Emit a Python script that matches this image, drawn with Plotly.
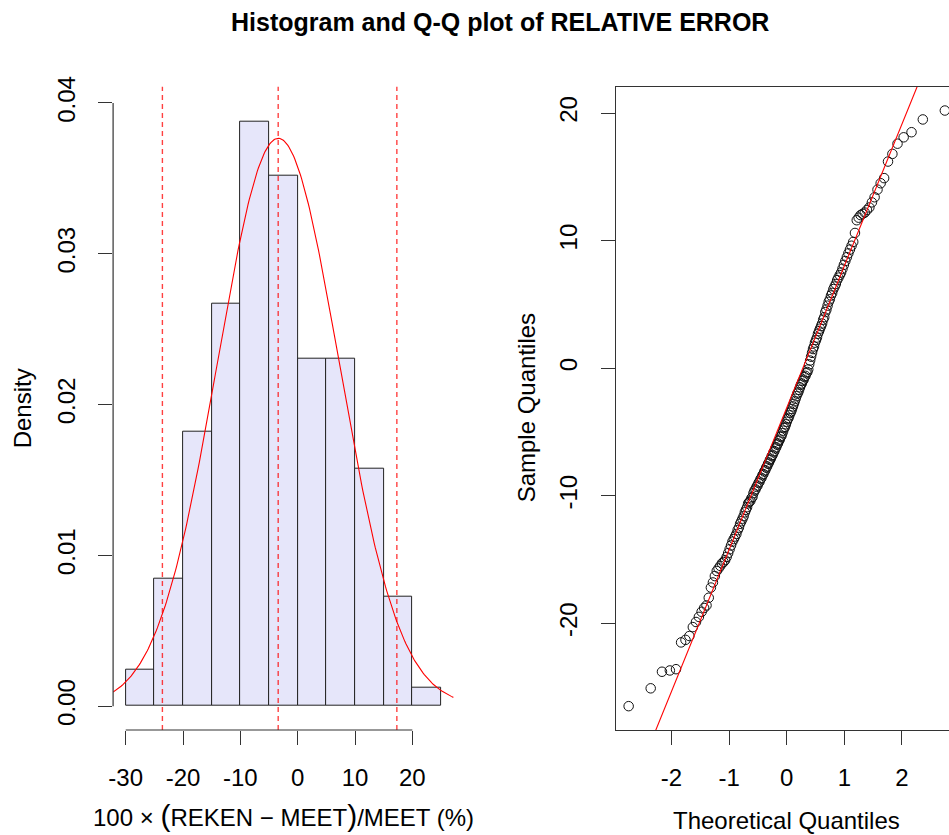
import numpy as np
import plotly.graph_objects as go
from statistics import NormalDist

# ---------------- data ----------------
SAMPLE = [
    -26.5, -25.1, -23.8, -23.7, -23.6, -21.5, -21.3, -21.0, -20.3,
    -19.9, -19.5, -19.1, -18.8, -18.6, -18.0, -17.2, -16.8, -16.3, -15.9,
    -15.7, -15.5, -15.3, -15.2, -15.05,
    -14.8, -14.5, -14.2, -13.9, -13.6, -13.4, -13.2, -13.0, -12.7, -12.5,
    -12.2, -12.0, -11.8, -11.6, -11.3, -11.1, -10.9, -10.6, -10.5, -10.4,
    -10.2, -10.1,
    -9.8, -9.6, -9.5, -9.3, -9.2, -9.0, -8.9, -8.7, -8.6, -8.4, -8.3, -8.1,
    -8.0, -7.8, -7.7, -7.5, -7.4, -7.2, -7.1, -6.9, -6.8, -6.6, -6.5, -6.3,
    -6.2, -6.0, -5.9, -5.7, -5.6, -5.4, -5.3, -5.1,
    -4.9, -4.7, -4.6, -4.4, -4.2, -4.0, -3.9, -3.7, -3.5, -3.4, -3.2, -3.0,
    -2.8, -2.6, -2.4, -2.2, -2.0, -1.9, -1.7, -1.5, -1.3, -1.2, -1.0, -0.9,
    -0.7, -0.6, -0.4, -0.3, -0.1,
    0.3, 0.6, 0.9, 1.2, 1.5, 1.7, 2.0, 2.2, 2.4, 2.7, 2.9, 3.1, 3.3, 3.5,
    3.8, 4.0, 4.4, 4.6, 4.9,
    5.2, 5.4, 5.7, 5.9, 6.2, 6.4, 6.6, 6.9, 7.1, 7.3, 7.5, 7.8, 8.1, 8.4,
    8.7, 9.0, 9.3, 9.6, 9.9,
    10.6, 11.6, 11.8, 12.0, 12.1, 12.2, 12.4, 12.6, 13.0, 13.4, 14.0, 14.5, 14.9,
    16.2, 16.8, 17.6, 18.1, 18.5, 19.5,
    20.2,
]
BIN_EDGES = [-30, -25, -20, -15, -10, -5, 0, 5, 10, 15, 20, 25]
HIST_COUNTS = [2, 7, 15, 22, 32, 29, 19, 19, 13, 6, 1]
REF_LINES = [-23.6, -3.4, 17.3]
HIST_YLIM = [0.0, 0.0395]

HIST_XTICKS = [-30, -20, -10, 0, 10, 20]
HIST_XTICKTEXT = ["-30", "-20", "-10", "0", "10", "20"]
HIST_YTICKS = [0.00, 0.01, 0.02, 0.03, 0.04]
HIST_YTICKTEXT = ["0.00", "0.01", "0.02", "0.03", "0.04"]
QQ_XTICKS = [-2, -1, 0, 1, 2]
QQ_XTICKTEXT = ["-2", "-1", "0", "1", "2"]
QQ_YTICKS = [-20, -10, 0, 10, 20]
QQ_YTICKTEXT = ["-20", "-10", "0", "10", "20"]

TITLE = "Histogram and Q-Q plot of RELATIVE ERROR"
HIST_XLABEL = "100 × <span style='font-size:30px'>(</span>REKEN − MEET<span style='font-size:30px'>)</span>/MEET (%)"
HIST_YLABEL = "Density"
QQ_XLABEL = "Theoretical Quantiles"
QQ_YLABEL = "Sample Quantiles"

# ---------------- derived ----------------
W, H = 949, 835
FONT = "Liberation Sans, Arial, sans-serif"
FS = 24

x = np.array(SAMPLE, dtype=float)
n = len(x)
edges = np.array(BIN_EDGES, dtype=float)
counts = np.array(HIST_COUNTS, dtype=float)
bw = np.diff(edges)
mids = (edges[:-1] + edges[1:]) / 2
density = counts / (counts.sum() * bw)

mu = x.mean()
sd = x.std(ddof=1)
nd = NormalDist(mu, sd)


def rext(lo, hi):
    d = (hi - lo) * 0.04
    return [lo - d, hi + d]


hx = rext(edges[0], edges[-1])
hy = rext(*HIST_YLIM)
curve_x = np.linspace(hx[0], hx[1], 301)
curve_y = np.array([nd.pdf(v) for v in curve_x])

std = NormalDist()
xs = np.sort(x)
theo = np.array([std.inv_cdf((i - 0.5) / n) for i in range(1, n + 1)])
qx = rext(theo.min(), theo.max())
qy = rext(xs.min(), xs.max())
q1, q3 = np.quantile(xs, [0.25, 0.75])
z1, z3 = std.inv_cdf(0.25), std.inv_cdf(0.75)
slope = (q3 - q1) / (z3 - z1)
inter = q1 - slope * z1
line_x = np.array([qx[0] - 1, qx[1] + 1])
line_y = inter + slope * line_x

# pixel layout (plot regions)
P_TOP, P_BOT = 86.7, 730.0
L_LEFT, L_RIGHT = 113.1, 453.6
R_LEFT = 616.0
R_WIDTH = 341.5          # full plot width (partly outside the window)
px_per = R_WIDTH / (qx[1] - qx[0])
qx_vis = [qx[0], qx[0] + (W - R_LEFT) / px_per]

ydom = [1 - P_BOT / H, 1 - P_TOP / H]

fig = go.Figure()
fig.add_trace(go.Bar(
    x=mids, y=density, width=bw,
    marker=dict(color="#E6E6FA", line=dict(color="#222222", width=1)),
    xaxis="x", yaxis="y", showlegend=False, hoverinfo="skip"))
fig.add_trace(go.Scatter(
    x=curve_x, y=curve_y, mode="lines",
    line=dict(color="#FF0000", width=1.1),
    xaxis="x", yaxis="y", showlegend=False, hoverinfo="skip"))
fig.add_trace(go.Scatter(
    x=theo, y=xs, mode="markers",
    marker=dict(symbol="circle-open", size=9.5, color="#111111", line=dict(width=1)),
    xaxis="x2", yaxis="y2", showlegend=False, hoverinfo="skip"))
fig.add_trace(go.Scatter(
    x=line_x, y=line_y, mode="lines",
    line=dict(color="#FF0000", width=1.1),
    xaxis="x2", yaxis="y2", showlegend=False, hoverinfo="skip"))

shapes = []
for v in REF_LINES:
    shapes.append(dict(type="line", xref="x", yref="y domain", x0=v, x1=v, y0=0, y1=1,
                       line=dict(color="rgba(255,0,0,0.75)", width=1.4, dash="5px,4px")))
# R-style axis lines spanning the tick range only (left panel)
shapes.append(dict(type="line", xref="x", yref="y domain",
                   x0=HIST_XTICKS[0], x1=HIST_XTICKS[-1], y0=0, y1=0,
                   line=dict(color="#333333", width=1.2)))
shapes.append(dict(type="line", xref="x domain", yref="y",
                   x0=0, x1=0, y0=HIST_YTICKS[0], y1=HIST_YTICKS[-1],
                   line=dict(color="#333333", width=1.2)))

tickfont = dict(family=FONT, size=FS, color="black")
common = dict(showgrid=False, zeroline=False, ticks="outside", ticklen=14,
              tickwidth=1.2, tickcolor="#333333", tickfont=tickfont,
              fixedrange=True, automargin=False)

fig.update_layout(
    template="none",
    width=W, height=H,
    margin=dict(l=0, r=0, t=0, b=0, pad=0, autoexpand=False),
    paper_bgcolor="white", plot_bgcolor="white",
    showlegend=False, bargap=0,
    shapes=shapes,
    xaxis=dict(domain=[L_LEFT / W, L_RIGHT / W], range=hx, anchor="y",
               tickvals=HIST_XTICKS, ticktext=HIST_XTICKTEXT, showline=False,
               ticklabelstandoff=12, **common),
    yaxis=dict(domain=ydom, range=hy, anchor="x",
               tickvals=HIST_YTICKS, ticktext=HIST_YTICKTEXT, showline=False,
               tickangle=-90, ticklabelstandoff=14, **common),
    xaxis2=dict(domain=[R_LEFT / W, 1.0], range=qx_vis, anchor="y2",
                tickvals=QQ_XTICKS, ticktext=QQ_XTICKTEXT,
                showline=True, mirror=True, linecolor="#333333", linewidth=1.2,
                ticklabelstandoff=12, **common),
    yaxis2=dict(domain=ydom, range=qy, anchor="x2",
                tickvals=QQ_YTICKS, ticktext=QQ_YTICKTEXT,
                showline=True, mirror=False, linecolor="#333333", linewidth=1.2,
                tickangle=-90, ticklabelstandoff=14, **common),
)

ann_font = dict(family=FONT, size=FS, color="black")
mid_y = 1 - ((P_TOP + P_BOT) / 2) / H
fig.add_annotation(text="<b>" + TITLE + "</b>", x=500 / W, y=1 - 22 / H, xref="paper", yref="paper",
                   showarrow=False, xanchor="center", yanchor="middle",
                   font=dict(family=FONT, size=25, color="black"))
fig.add_annotation(text=HIST_YLABEL, x=22 / W, y=mid_y, xref="paper", yref="paper",
                   showarrow=False, textangle=-90, xanchor="center", yanchor="middle", font=ann_font)
fig.add_annotation(text=QQ_YLABEL, x=526 / W, y=mid_y, xref="paper", yref="paper",
                   showarrow=False, textangle=-90, xanchor="center", yanchor="middle", font=ann_font)
fig.add_annotation(text=HIST_XLABEL, x=((L_LEFT + L_RIGHT) / 2) / W, y=1 - 815 / H,
                   xref="paper", yref="paper", showarrow=False,
                   xanchor="center", yanchor="middle", font=ann_font)
fig.add_annotation(text=QQ_XLABEL, x=(R_LEFT + R_WIDTH / 2) / W, y=1 - 820 / H,
                   xref="paper", yref="paper", showarrow=False,
                   xanchor="center", yanchor="middle", font=ann_font)

fig.write_html("out.html")
